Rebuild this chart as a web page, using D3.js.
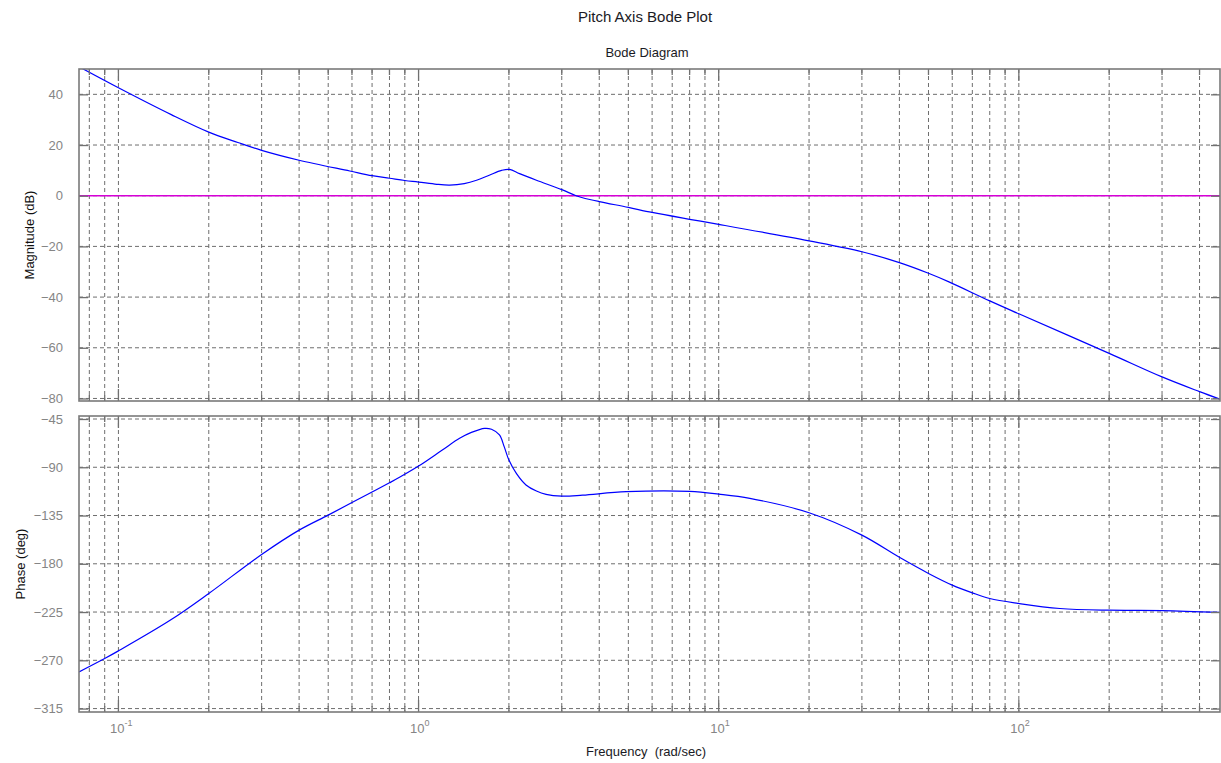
<!DOCTYPE html>
<html>
<head>
<meta charset="utf-8">
<script src="https://cdn.jsdelivr.net/npm/d3@7"></script>
<style>
  body { margin: 0; background: #fff; }
  text { font-family: "Liberation Sans", Arial, sans-serif; }
</style>
</head>
<body>
<div id="chart"></div>
<script>
// Magnitude curve (rad/sec, dB)
const magFreq = [0.0739, 0.1, 0.15, 0.2, 0.25, 0.3, 0.4, 0.59, 0.7, 0.8, 0.9, 1.0, 1.15, 1.27, 1.42, 1.56, 1.72, 1.89, 2.01, 2.17, 2.47, 3.0, 3.35, 3.52, 4.0, 5.0, 6.0, 8.0, 10, 20, 30, 40, 50, 58.5, 80, 100, 200, 300, 400, 468];
const magDb   = [50.9, 42.6, 32.0, 25.1, 21.0, 17.9, 14.0, 9.75, 7.9, 6.9, 6.0, 5.4, 4.5, 4.2, 4.8, 6.1, 8.1, 10.0, 10.4, 8.7, 6.1, 2.4, 0.0, -0.8, -2.3, -4.6, -6.6, -9.3, -11.3, -17.8, -22.1, -26.4, -30.6, -34.0, -41.5, -46.6, -62.2, -71.5, -77.3, -80.3];

// Phase curve (rad/sec, deg)
const phaseFreq = [0.0739, 0.09, 0.1, 0.15, 0.2, 0.3, 0.4, 0.5, 0.6, 0.7, 0.8, 0.864, 1.0, 1.2, 1.37, 1.5, 1.66, 1.75, 1.86, 1.93, 2.0, 2.12, 2.28, 2.47, 2.66, 3.0, 3.52, 4.92, 8.0, 10, 12.7, 20, 30, 40, 50, 60, 70, 80, 100, 137, 200, 300, 468];
const phaseDeg  = [-280.8, -268.3, -261.2, -232, -207.7, -171.3, -148.6, -134.6, -122.9, -113, -104.5, -99.4, -88.9, -73.9, -63, -57.5, -53.7, -54.6, -59.9, -71, -83.3, -96, -106.5, -112.2, -115.3, -116.9, -116, -112.8, -112.5, -115, -119, -132.4, -153.3, -174, -189, -199.9, -207.1, -212.4, -217, -221.7, -223.3, -223.6, -225.4];

// tick values
const magTicks = [-80, -60, -40, -20, 0, 20, 40];
const phaseTicks = [-315, -270, -225, -180, -135, -90, -45];
const decades = [0.1, 1, 10, 100];
const decadeExp = ["-1", "0", "1", "2"];

const width = 1221, height = 763;
const left = 79, right = 1220;
const gridColor = "#6e6e6e";
const labelColor = "#858585";

const svg = d3.select("#chart").append("svg")
  .attr("width", width)
  .attr("height", height);

svg.append("rect").attr("width", width).attr("height", height).attr("fill", "#fff");

const x = d3.scaleLog().domain([0.0739, 468]).range([left, right]);

// every 1..9 times a decade, inside the domain
const minorTicks = [];
for (let e = -2; e <= 2; e++) {
  for (let k = 1; k <= 9; k++) {
    const v = k * Math.pow(10, e);
    if (v >= x.domain()[0] && v <= x.domain()[1]) minorTicks.push(v);
  }
}

const panels = [
  { name: "mag", y: d3.scaleLinear().domain([-81, 50]).range([401, 69]), ticks: magTicks,
    freq: magFreq, vals: magDb, label: "Magnitude (dB)", labelX: 29 },
  { name: "phase", y: d3.scaleLinear().domain([-318.2, -42.2]).range([712, 416]), ticks: phaseTicks,
    freq: phaseFreq, vals: phaseDeg, label: "Phase (deg)", labelX: 20 }
];

panels.forEach(p => {
  const y = p.y;
  const top = y.range()[1], bottom = y.range()[0];
  const g = svg.append("g");

  g.append("clipPath").attr("id", "clip-" + p.name)
    .append("rect").attr("x", left).attr("y", top)
    .attr("width", right - left).attr("height", bottom - top);

  // grid
  g.selectAll(".vgrid").data(minorTicks).enter().append("line")
    .attr("x1", d => x(d)).attr("x2", d => x(d))
    .attr("y1", top).attr("y2", bottom)
    .attr("stroke", gridColor).attr("stroke-dasharray", "4,3");
  g.selectAll(".hgrid").data(p.ticks).enter().append("line")
    .attr("x1", left).attr("x2", right)
    .attr("y1", d => y(d)).attr("y2", d => y(d))
    .attr("stroke", gridColor).attr("stroke-dasharray", "4,3");

  // 0 dB line
  if (p.name === "mag") {
    g.append("line")
      .attr("x1", left).attr("x2", right)
      .attr("y1", y(0)).attr("y2", y(0))
      .attr("stroke", "#d600d6").attr("stroke-width", 1.5);
  }

  // response curve
  const pts = p.freq.map((f, i) => ({ f: f, v: p.vals[i] }));
  g.append("path").datum(pts)
    .attr("clip-path", "url(#clip-" + p.name + ")")
    .attr("fill", "none").attr("stroke", "#0000ff").attr("stroke-width", 1.2)
    .attr("d", d3.line().x(d => x(d.f)).y(d => y(d.v)).curve(d3.curveCatmullRom.alpha(0.5)));

  // y axes, ticks pointing inward
  const yl = g.append("g").attr("transform", `translate(${left},0)`)
    .call(d3.axisLeft(y).tickValues(p.ticks).tickSizeInner(-9).tickSizeOuter(0).tickPadding(16));
  yl.select(".domain").remove();
  yl.selectAll("line").attr("stroke", "#707070").attr("stroke-width", 1.3);
  yl.selectAll("text").attr("fill", labelColor).style("font-size", "13px")
    .style("font-family", '"Liberation Sans", Arial, sans-serif');

  const yr = g.append("g").attr("transform", `translate(${right},0)`)
    .call(d3.axisRight(y).tickValues(p.ticks).tickSizeInner(-9).tickSizeOuter(0).tickFormat(""));
  yr.select(".domain").remove();
  yr.selectAll("line").attr("stroke", "#707070").attr("stroke-width", 1.3);

  // x ticks, top and bottom
  [[top, 1], [bottom, -1]].forEach(([yy, dir]) => {
    g.selectAll(null).data(minorTicks).enter().append("line")
      .attr("x1", d => x(d)).attr("x2", d => x(d))
      .attr("y1", yy).attr("y2", d => yy + dir * (decades.includes(d) ? 12 : 6))
      .attr("stroke", "#707070").attr("stroke-width", 1.3);
  });

  // frame
  g.append("rect").attr("x", left).attr("y", top)
    .attr("width", right - left).attr("height", bottom - top)
    .attr("fill", "none").attr("stroke", "#7a7a7a").attr("stroke-width", 1.6);

  // y label
  g.append("text")
    .attr("transform", `translate(${p.labelX},${(top + bottom) / 2}) rotate(-90)`)
    .attr("text-anchor", "middle").attr("dy", "0.35em")
    .style("font-size", "13px").attr("fill", "#111")
    .text(p.label);
});

// decade labels under the phase panel
const xl = svg.append("g");
decades.forEach((d, i) => {
  xl.append("text")
    .attr("x", x(d) + 6).attr("y", 733)
    .attr("text-anchor", "end")
    .attr("fill", labelColor).style("font-size", "13px")
    .text("10");
  xl.append("text")
    .attr("x", x(d) + 6).attr("y", 726)
    .attr("fill", labelColor).style("font-size", "9px")
    .text(decadeExp[i]);
});

// titles
svg.append("text").attr("x", 645).attr("y", 22).attr("text-anchor", "middle")
  .style("font-size", "15px").attr("fill", "#1a1a24").text("Pitch Axis Bode Plot");
svg.append("text").attr("x", 647).attr("y", 57).attr("text-anchor", "middle")
  .style("font-size", "13px").attr("fill", "#1a1a24").text("Bode Diagram");
svg.append("text").attr("x", 646).attr("y", 756).attr("text-anchor", "middle")
  .style("font-size", "13px").style("white-space", "pre").attr("fill", "#1a1a24")
  .text("Frequency  (rad/sec)");
</script>
</body>
</html>
